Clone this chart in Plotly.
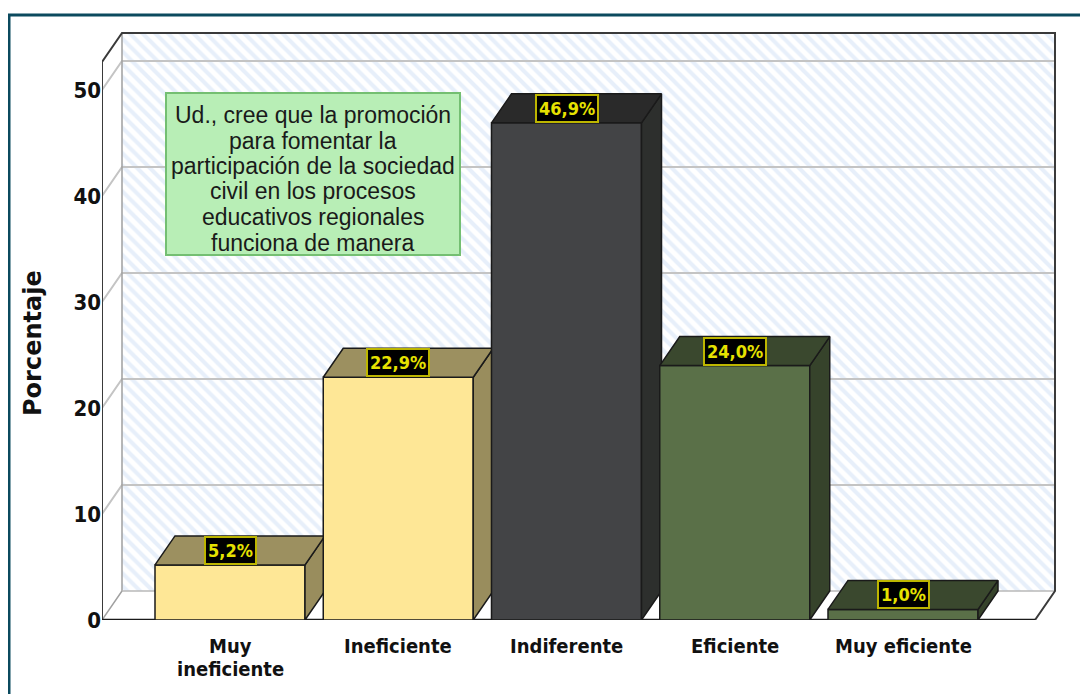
import plotly.graph_objects as go

# ---------------- data ----------------
categories = ["Muy ineficiente", "Ineficiente", "Indiferente", "Eficiente", "Muy eficiente"]
tick_lines = [["Muy", "ineficiente"], ["Ineficiente"], ["Indiferente"], ["Eficiente"], ["Muy eficiente"]]
porcentajes = [5.2, 22.9, 46.9, 24.0, 1.0]
y_ticks = [0, 10, 20, 30, 40, 50]
y_title = "Porcentaje"
note_lines = [
    "Ud., cree que la promoción",
    "para fomentar la",
    "participación de la sociedad",
    "civil en los procesos",
    "educativos regionales",
    "funciona de manera",
]
front_colors = ["#FEE796", "#FEE796", "#434446", "#5A7048", "#5A7048"]
top_colors = ["#9C9060", "#9C9060", "#2A2A2A", "#3A482E", "#3A482E"]
side_colors = ["#998D5D", "#998D5D", "#2D2F2D", "#36432B", "#36432B"]

# ---------------- geometry (page has an 8px body margin) ----------------
OFF = 8
W, H = 1080, 686
L, T = 102 - OFF, 31 - OFF
PR, PB = 1057 - OFF, 620 - OFF
R, B = W - PR, H - PB
PW, PH = PR - L, PB - T
SX = 168.25          # px per category unit
SY = 10.6            # px per percent
x_lo = -128 / SX
x_hi = x_lo + PW / SX
y_hi = PH / SY
DX = 20 / SX
DY = 29 / SY
x_front_r = x_lo + 933 / SX
y_wall_top = (620 - 33) / SY
BW = 150 / SX

COND = "DejaVu Sans Condensed, Liberation Sans Narrow, sans-serif"
ARIAL = "Liberation Sans, Arial, sans-serif"
DEJAVU = "DejaVu Sans, sans-serif"


def px_to_paper(sx, sy):
    fx, fy = sx - OFF, sy - OFF
    return (fx - L) / PW, (PB - fy) / PH


fig = go.Figure()


def poly(xs, ys, fill, line_color=None, width=0, pattern=None):
    kw = dict(x=xs + [xs[0]], y=ys + [ys[0]], mode="lines", fill="toself",
              fillcolor=fill, hoverinfo="skip", showlegend=False,
              line=dict(color=line_color or fill, width=width))
    if pattern:
        kw["fillpattern"] = pattern
    fig.add_trace(go.Scatter(**kw))


def seg(xs, ys, color, width):
    fig.add_trace(go.Scatter(x=xs, y=ys, mode="lines", hoverinfo="skip", showlegend=False,
                             line=dict(color=color, width=width)))


# left wall
poly([x_lo, x_lo + DX, x_lo + DX, x_lo], [0, DY, y_wall_top, y_wall_top - DY], "white")
# back wall with hatch
poly([x_lo + DX, x_front_r + DX, x_front_r + DX, x_lo + DX], [DY, DY, y_wall_top, y_wall_top],
     "white", pattern=dict(shape="\\", fgcolor="#CFE0F5", bgcolor="white", size=9, solidity=0.45))
# floor
poly([x_lo, x_front_r, x_front_r + DX, x_lo + DX], [0, 0, DY, DY], "white")

# gridlines
gx, gy = [], []
for t in y_ticks[1:]:
    gx += [x_lo, x_lo + DX, x_front_r + DX, None]
    gy += [t, t + DY, t + DY, None]
seg(gx, gy, "#C4C4C4", 2)

# light wall edges
seg([x_lo, x_lo + DX, x_lo + DX], [0, DY, y_wall_top], "#A0A0A0", 1.5)
seg([x_lo + DX, x_front_r + DX], [DY, DY], "#B8B8B8", 1.5)
# dark wall edges
seg([x_lo, x_lo, x_lo + DX, x_front_r + DX, x_front_r + DX, x_front_r],
    [0, y_wall_top - DY, y_wall_top, y_wall_top, DY, 0], "#3A3A3A", 2)
seg([x_lo, x_front_r], [0, 0], "#1A1A1A", 2.5)

# bars (3D)
for i, v in enumerate(porcentajes):
    xl, xr = i - BW / 2, i + BW / 2
    poly([xl, xr, xr, xl], [0, 0, v, v], front_colors[i], "#1A1A1A", 1.5)
    poly([xr, xr + DX, xr + DX, xr], [0, DY, v + DY, v], side_colors[i], "#1A1A1A", 1.5)
    poly([xl, xr, xr + DX, xl + DX], [v, v, v + DY, v + DY], top_colors[i], "#1A1A1A", 1.5)

annotations = []
# value labels
for i, v in enumerate(porcentajes):
    annotations.append(dict(
        x=i, y=v + DY / 2, xref="x", yref="y", showarrow=False,
        text=f"{v:.1f}%".replace(".", ","),
        font=dict(family=COND, size=18, color="#E6E200", weight="bold"),
        bgcolor="#000000", bordercolor="#BDB600", borderwidth=2, borderpad=2))

# category labels
for i, lines in enumerate(tick_lines):
    for k, ln in enumerate(lines):
        annotations.append(dict(
            x=i, y=0, xref="x", yref="y", xanchor="center", yanchor="top", showarrow=False,
            yshift=-12 - 23 * k, text=ln,
            font=dict(family=COND, size=20, color="#111111", weight="bold")))

# y title
xt, yt = px_to_paper(33, 343)
annotations.append(dict(x=xt, y=yt, xref="paper", yref="paper", showarrow=False,
                        xanchor="center", yanchor="middle",
                        text=y_title, textangle=-90,
                        font=dict(family=DEJAVU, size=24, color="#111111", weight="bold")))

# note box text
for k, ln in enumerate(note_lines):
    nx, ny = px_to_paper(312.5, 115 + 25.5 * k)
    annotations.append(dict(x=nx, y=ny, xref="paper", yref="paper", showarrow=False,
                            xanchor="center", yanchor="middle",
                            text=ln, font=dict(family=ARIAL, size=23, color="#1A1A1A")))

bx0, by0 = px_to_paper(166, 255)
bx1, by1 = px_to_paper(460, 93)
fx0, fy1 = px_to_paper(9, 15)
fx1, fy0 = px_to_paper(1110, 720)

shapes = [
    dict(type="rect", xref="paper", yref="paper", x0=bx0, y0=by0, x1=bx1, y1=by1,
         fillcolor="#B8EEB6", line=dict(color="#74BF72", width=2), layer="above"),
    dict(type="rect", xref="paper", yref="paper", x0=fx0, y0=fy0, x1=fx1, y1=fy1,
         fillcolor="rgba(0,0,0,0)", line=dict(color="#0B4A5E", width=3), layer="above"),
]

fig.update_layout(
    width=W, height=H,
    margin=dict(l=L, r=R, t=T, b=B, pad=0),
    paper_bgcolor="white", plot_bgcolor="white",
    showlegend=False,
    xaxis=dict(range=[x_lo, x_hi], showgrid=False, zeroline=False, showticklabels=False,
               ticks="", showline=False, fixedrange=True),
    yaxis=dict(range=[0, y_hi], showgrid=False, zeroline=False, tickvals=y_ticks,
               ticktext=[str(t) for t in y_ticks], ticks="", ticklen=0,
               tickfont=dict(family=COND, size=22, color="#111111", weight="bold"),
               showline=False, fixedrange=True),
    annotations=annotations,
    shapes=shapes,
)

fig.write_html("out.html")
